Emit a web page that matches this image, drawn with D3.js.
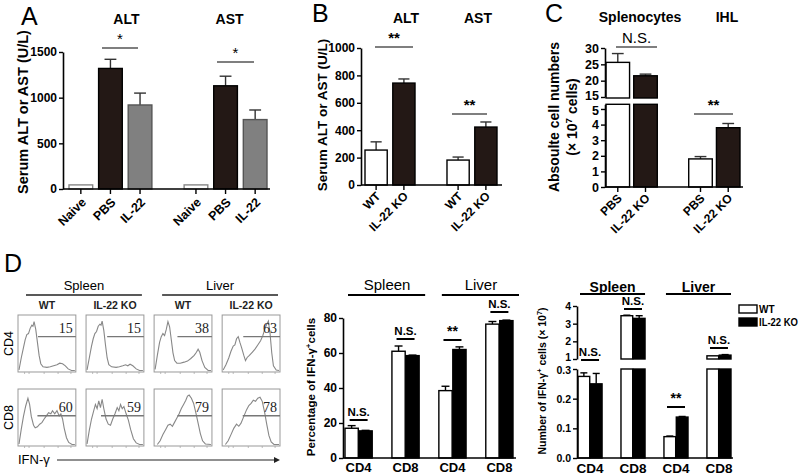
<!DOCTYPE html>
<html><head><meta charset="utf-8">
<script src="https://cdn.jsdelivr.net/npm/d3@7"></script>
<style>body{margin:0;background:#fff}</style>
</head><body><script>
// ---------- DATA ----------
const aGroups = ["ALT", "AST"];
const aCats = ["Naive", "PBS", "IL-22"];
const aAltMean = [45, 1320, 920];
const aAltSem = [0, 100, 130];
const aAstMean = [45, 1130, 760];
const aAstSem = [0, 105, 105];
const aTicks = [0, 500, 1000, 1500];
const aSig = ["*", "*"];

const bGroups = ["ALT", "AST"];
const bCats = ["WT", "IL-22 KO"];
const bAltMean = [255, 744];
const bAltSem = [60, 30];
const bAstMean = [182, 423];
const bAstSem = [22, 37];
const bTicks = [0, 200, 400, 600, 800, 1000];
const bSig = ["**", "**"];

const cGroups = ["Splenocytes", "IHL"];
const cCats = ["PBS", "IL-22 KO"];
const cSplMean = [25.6, 21.5];
const cSplSem = [2.7, 0.5];
const cIhlMean = [1.8, 3.8];
const cIhlSem = [0.15, 0.27];
const cTicksUpper = [15, 20, 25, 30];
const cTicksLower = [0, 1, 2, 3, 4, 5];
const cSig = ["N.S.", "**"];

const dTissues = ["Spleen", "Liver"];
const dCells = ["CD4", "CD8", "CD4", "CD8"];
const dGenotypes = ["WT", "IL-22 KO"];
const pctWT = [17, 61, 38.5, 76.5];
const pctWTSem = [1.5, 3, 2.5, 1.5];
const pctKO = [15.5, 58.5, 62, 78.5];
const pctKOSem = [0.3, 0.3, 1.5, 0.3];
const pctTicks = [0, 20, 40, 60, 80];
const numWT = [0.275, 3.45, 0.072, 1.18];
const numWTSem = [0.012, 0.03, 0.002, 0.02];
const numKO = [0.25, 3.3, 0.138, 1.22];
const numKOSem = [0.035, 0.15, 0.002, 0.03];
const numTicksUpper = [1, 2, 3, 4];
const numTicksLower = [0, 0.1, 0.2, 0.3];
const dSig = ["N.S.", "N.S.", "**", "N.S."];

const flowRows = ["CD4", "CD8"];
const flowGateCD4 = [15, 15, 38, 63];
const flowGateCD8 = [60, 59, 79, 78];
// histogram outlines: [x fraction, height fraction]
// order: Spleen WT, Spleen IL-22 KO, Liver WT, Liver IL-22 KO
const flowCD4 = [
  [[0,0.02],[0.04,0.25],[0.08,0.45],[0.11,0.6],[0.14,0.7],[0.17,0.72],[0.2,0.82],[0.23,0.88],[0.25,0.86],[0.27,0.95],[0.3,0.8],[0.33,0.55],[0.36,0.3],[0.39,0.14],[0.43,0.08],[0.5,0.07],[0.56,0.08],[0.62,0.1],[0.68,0.12],[0.73,0.15],[0.78,0.14],[0.83,0.1],[0.88,0.04],[0.94,0.01],[1,0.01]],
  [[0,0.02],[0.04,0.25],[0.08,0.48],[0.11,0.62],[0.14,0.72],[0.17,0.76],[0.2,0.86],[0.23,0.9],[0.25,0.88],[0.27,0.96],[0.3,0.78],[0.33,0.5],[0.36,0.25],[0.39,0.12],[0.44,0.08],[0.52,0.07],[0.58,0.08],[0.64,0.1],[0.69,0.12],[0.73,0.1],[0.77,0.13],[0.82,0.1],[0.88,0.04],[0.94,0.01],[1,0.01]],
  [[0,0.03],[0.04,0.3],[0.08,0.55],[0.11,0.66],[0.14,0.72],[0.17,0.68],[0.2,0.8],[0.23,0.95],[0.26,0.85],[0.29,0.6],[0.32,0.35],[0.35,0.2],[0.39,0.15],[0.45,0.15],[0.52,0.17],[0.58,0.19],[0.64,0.24],[0.7,0.3],[0.74,0.36],[0.77,0.42],[0.8,0.36],[0.84,0.2],[0.89,0.07],[0.95,0.01],[1,0.01]],
  [[0,0.02],[0.05,0.12],[0.1,0.25],[0.14,0.38],[0.18,0.48],[0.21,0.5],[0.24,0.62],[0.27,0.66],[0.3,0.55],[0.33,0.45],[0.37,0.3],[0.4,0.2],[0.43,0.26],[0.47,0.3],[0.52,0.36],[0.57,0.42],[0.62,0.5],[0.67,0.58],[0.71,0.68],[0.75,0.82],[0.78,0.9],[0.81,0.96],[0.84,0.72],[0.87,0.35],[0.9,0.1],[0.95,0.02],[1,0.01]]
];
const flowCD8 = [
  [[0,0.02],[0.04,0.3],[0.08,0.55],[0.12,0.75],[0.16,0.9],[0.19,0.78],[0.22,0.55],[0.26,0.38],[0.29,0.33],[0.33,0.35],[0.37,0.4],[0.41,0.43],[0.45,0.5],[0.49,0.56],[0.53,0.62],[0.57,0.6],[0.6,0.66],[0.64,0.6],[0.68,0.66],[0.72,0.56],[0.75,0.6],[0.78,0.5],[0.81,0.32],[0.85,0.14],[0.89,0.05],[0.95,0.01],[1,0.01]],
  [[0,0.02],[0.04,0.28],[0.08,0.5],[0.12,0.66],[0.15,0.78],[0.18,0.7],[0.21,0.85],[0.24,0.72],[0.27,0.88],[0.3,0.7],[0.34,0.5],[0.38,0.4],[0.42,0.38],[0.46,0.5],[0.5,0.6],[0.54,0.72],[0.57,0.66],[0.6,0.78],[0.63,0.7],[0.66,0.74],[0.7,0.6],[0.74,0.48],[0.78,0.3],[0.83,0.12],[0.88,0.04],[0.94,0.01],[1,0.01]],
  [[0.04,0.01],[0.09,0.08],[0.14,0.2],[0.19,0.3],[0.23,0.38],[0.27,0.4],[0.31,0.36],[0.35,0.44],[0.39,0.52],[0.43,0.6],[0.47,0.7],[0.51,0.78],[0.55,0.86],[0.58,0.94],[0.61,0.96],[0.65,0.9],[0.69,0.8],[0.73,0.62],[0.77,0.42],[0.81,0.22],[0.85,0.08],[0.9,0.02],[1,0.01]],
  [[0.04,0.01],[0.09,0.08],[0.14,0.2],[0.19,0.32],[0.24,0.4],[0.28,0.36],[0.32,0.42],[0.37,0.55],[0.42,0.68],[0.46,0.76],[0.5,0.8],[0.54,0.86],[0.58,0.84],[0.62,0.9],[0.66,0.92],[0.7,0.84],[0.74,0.64],[0.78,0.4],[0.82,0.18],[0.86,0.06],[0.91,0.01],[1,0.01]]
];

// ---------- SETUP ----------
const svg = d3.select("body").append("svg")
  .attr("width", 800).attr("height", 476)
  .style("font-family", "'Liberation Sans', Arial, sans-serif");

const BLACK = "#231815";

function styleAxis(g, fs) {
  g.select(".domain").attr("stroke", "#000").attr("stroke-width", 1.6);
  g.selectAll(".tick line").attr("stroke", "#000").attr("stroke-width", 1.4);
  g.selectAll(".tick text").attr("font-size", fs).attr("font-weight", "bold").attr("fill", "#000");
}
function yAxis(scale, x, ticks, fmt, fs) {
  const g = svg.append("g").attr("transform", `translate(${x},0)`)
    .call(d3.axisLeft(scale).tickValues(ticks).tickFormat(fmt).tickSize(4).tickSizeOuter(0).tickPadding(2));
  styleAxis(g, fs);
  return g;
}
function nudgeTick(g, value, dy) {
  g.selectAll(".tick").filter(d => d === value).select("text").attr("y", dy);
}
function hline(x1, x2, y, w, col) {
  svg.append("line").attr("x1", x1).attr("x2", x2).attr("y1", y).attr("y2", y)
    .attr("stroke", col || "#000").attr("stroke-width", w || 1.5);
}
function txt(x, y, s, fs, opts) {
  opts = opts || {};
  const t = svg.append("text").attr("x", x).attr("y", y).text(s)
    .attr("font-size", fs).attr("text-anchor", opts.anchor || "middle")
    .attr("font-weight", opts.weight || "normal").attr("fill", opts.fill || "#000");
  if (opts.family) t.attr("font-family", opts.family);
  return t;
}
function rotText(x, y, parts, fs, weight) {
  const t = svg.append("text").attr("transform", `translate(${x},${y}) rotate(-90)`)
    .attr("text-anchor", "middle").attr("font-size", fs).attr("font-weight", weight || "bold");
  parts.forEach(p => {
    const ts = t.append("tspan").text(p.t);
    if (p.sup) ts.attr("baseline-shift", "super").attr("font-size", fs * 0.7);
  });
  return t;
}
function sig(x1, x2, y, s, fs, weight, col) {
  hline(x1, x2, y, 1.4, col || "#555");
  txt((x1 + x2) / 2, y - 4, s, fs, { weight: weight || "normal" });
}
function bar(x, w, y0, y1, fill, stroke) {
  svg.append("rect").attr("x", x).attr("y", Math.min(y0, y1)).attr("width", w)
    .attr("height", Math.abs(y1 - y0)).attr("fill", fill).attr("stroke", stroke || "#000").attr("stroke-width", 1.4);
}
function errBar(cx, yMean, yTop, capW, col) {
  if (Math.abs(yMean - yTop) < 0.5) return;
  svg.append("line").attr("x1", cx).attr("x2", cx).attr("y1", yMean).attr("y2", yTop)
    .attr("stroke", col || "#000").attr("stroke-width", 1.4);
  hline(cx - capW / 2, cx + capW / 2, yTop, 1.4, col || "#000");
}
function letter(x, y, s) { txt(x, y, s, 25, { anchor: "start" }); }
function xLabel(cx, y, s, fs) {
  svg.append("text").attr("transform", `translate(${cx},${y}) rotate(-45)`)
    .attr("text-anchor", "end").attr("font-size", fs).attr("font-weight", "bold").text(s);
}

// ---------- PANEL A ----------
{
  letter(21, 25, "A");
  const y = d3.scaleLinear().domain([0, 1500]).range([189, 52]);
  const gx = d3.scaleBand().domain(aGroups).range([69, 267]).paddingInner(0.28);
  const ix = d3.scaleBand().domain(aCats).range([0, gx.bandwidth()]).paddingInner(0.2);
  const fills = ["#fff", BLACK, "#808080"];
  const strokes = ["#888", "#000", "#555"];
  const means = [aAltMean, aAstMean], sems = [aAltSem, aAstSem];
  const titleShift = [16, 4];
  aGroups.forEach((gname, gi) => {
    aCats.forEach((c, i) => {
      const x0 = gx(gname) + ix(c), w = ix.bandwidth();
      const m = means[gi][i], s = sems[gi][i];
      errBar(x0 + w / 2, y(m), y(m + s), w * 0.5, "#333");
      bar(x0, w, y(0), y(m), fills[i], strokes[i]);
      svg.append("line").attr("x1", x0 + w / 2).attr("x2", x0 + w / 2).attr("y1", 189).attr("y2", 194).attr("stroke", "#000").attr("stroke-width", 1.4);
      xLabel(x0 + w / 2 + 6, 203, c, 12.5);
    });
    txt(gx(gname) + gx.bandwidth() / 2 + titleShift[gi], 24, gname, 14, { weight: "bold" });
  });
  hline(63, 270, 189, 1.6);
  yAxis(y, 63, aTicks, d3.format("d"), 12);
  rotText(28, 112, [{ t: "Serum ALT or AST (U/L)" }], 14.5);
  sig(102, 138, 48, aSig[0], 15);
  sig(217, 254, 62, aSig[1], 15);
}

// ---------- PANEL B ----------
{
  letter(312, 22, "B");
  const y = d3.scaleLinear().domain([0, 1000]).range([185, 48]);
  const gx = d3.scaleBand().domain(bGroups).range([365, 497]).paddingInner(0.39);
  const ix = d3.scaleBand().domain(bCats).range([0, gx.bandwidth()]).paddingInner(0.2);
  const fills = ["#fff", BLACK];
  const means = [bAltMean, bAstMean], sems = [bAltSem, bAstSem];
  const titleShift = [16, 6];
  bGroups.forEach((gname, gi) => {
    bCats.forEach((c, i) => {
      const x0 = gx(gname) + ix(c), w = ix.bandwidth();
      const m = means[gi][i], s = sems[gi][i];
      errBar(x0 + w / 2, y(m), y(m + s), w * 0.5, "#333");
      bar(x0, w, y(0), y(m), fills[i], "#000");
      svg.append("line").attr("x1", x0 + w / 2).attr("x2", x0 + w / 2).attr("y1", 185).attr("y2", 190).attr("stroke", "#000").attr("stroke-width", 1.4);
      xLabel(x0 + w / 2 + 5, 197, c, 12);
    });
    txt(gx(gname) + gx.bandwidth() / 2 + titleShift[gi], 23, gname, 14, { weight: "bold" });
  });
  hline(361, 502, 185, 1.6);
  yAxis(y, 361, bTicks, d3.format("d"), 12);
  rotText(327, 115, [{ t: "Serum ALT or AST (U/L)" }], 13.5);
  sig(375, 413, 47, bSig[0], 15, "bold");
  sig(452, 487, 114, bSig[1], 15, "bold");
}

// ---------- PANEL C ----------
{
  letter(545, 22, "C");
  const yU = d3.scaleLinear().domain([15, 30]).range([97, 48]);
  const yL = d3.scaleLinear().domain([0, 5.3]).range([187, 104.3]);
  const gx = d3.scaleBand().domain(cGroups).range([606, 740]).paddingInner(0.38);
  const ix = d3.scaleBand().domain(cCats).range([0, gx.bandwidth()]).paddingInner(0.15);
  const fills = ["#fff", BLACK];
  const means = [cSplMean, cIhlMean], sems = [cSplSem, cIhlSem];
  const yv = v => v > 5.3 ? yU(v) : yL(v);
  cGroups.forEach((gname, gi) => {
    cCats.forEach((c, i) => {
      const x0 = gx(gname) + ix(c), w = ix.bandwidth();
      const m = means[gi][i], s = sems[gi][i];
      errBar(x0 + w / 2, yv(m), yv(m + s), w * 0.5, "#333");
      if (m > 5.3) {
        bar(x0, w, yL(0), yL(5.3), fills[i], "#000");
        bar(x0, w, yU(15) + 1, yU(m), fills[i], "#000");
      } else {
        bar(x0, w, yL(0), yL(m), fills[i], "#000");
      }
      svg.append("line").attr("x1", x0 + w / 2).attr("x2", x0 + w / 2).attr("y1", 187).attr("y2", 192).attr("stroke", "#000").attr("stroke-width", 1.4);
      xLabel(x0 + w / 2 + 5, 199, c, 12);
    });
  });
  txt(640, 22, cGroups[0], 14, { weight: "bold" });
  txt(727, 22, cGroups[1], 14, { weight: "bold" });
  hline(605, 743, 187, 1.6);
  const gU = yAxis(yU, 605, cTicksUpper, d3.format("d"), 12.5);
  const gL = yAxis(yL, 605, cTicksLower, d3.format("d"), 12.5);
  nudgeTick(gU, 15, -2);
  nudgeTick(gL, 5, 1.5);
  rotText(559, 117, [{ t: "Absoulte cell numbers" }], 14);
  rotText(577, 117, [{ t: "(× 10" }, { t: "7", sup: true }, { t: " cells)" }], 14);
  sig(616, 657, 47, cSig[0], 15, "normal");
  sig(694, 733, 114, cSig[1], 15, "bold");
}

// ---------- PANEL D : flow histograms ----------
{
  letter(4, 272, "D");
  const boxX = d3.scaleBand().domain(d3.range(4)).range([18, 280]).paddingInner(0.15);
  const boxY = d3.scaleBand().domain(flowRows).range([315, 446]).paddingInner(0.23);
  const bw = boxX.bandwidth(), bh = boxY.bandwidth();
  const curves = [flowCD4, flowCD8], gates = [flowGateCD4, flowGateCD8];
  const gateStart = [[0.34, 0.36, 0.4, 0.36], [0.33, 0.25, 0.4, 0.35]];
  dTissues.forEach((t, ti) => {
    const x1 = boxX(ti * 2) + 8, x2 = boxX(ti * 2 + 1) + bw - 2;
    txt((x1 + x2) / 2, 290, t, 13);
    hline(x1, x2, 295, 1.3, "#222");
    dGenotypes.forEach((gname, gi) => {
      txt(boxX(ti * 2 + gi) + bw / 2, 309, gname, 10.5, { weight: "bold", fill: "#222" });
    });
  });
  flowRows.forEach((r, ri) => {
    rotText(13, boxY(r) + bh / 2, [{ t: r }], 12.5, "normal");
    d3.range(4).forEach(ci => {
      const bx = boxX(ci), by = boxY(r);
      const sx = d3.scaleLinear().domain([0, 1]).range([bx + 1, bx + bw - 1]);
      const sy = d3.scaleLinear().domain([0, 1]).range([by + bh - 1, by + 4]);
      svg.append("rect").attr("x", bx).attr("y", by).attr("width", bw).attr("height", bh)
        .attr("fill", "none").attr("stroke", "#999").attr("stroke-width", 1);
      svg.append("path").datum(curves[ri][ci])
        .attr("d", d3.line().x(d => sx(d[0])).y(d => sy(d[1])))
        .attr("fill", "none").attr("stroke", "#888").attr("stroke-width", 1.1);
      [0.1, 0.18, 0.45, 0.7, 0.93].forEach(f => {
        svg.append("line").attr("x1", sx(f)).attr("x2", sx(f)).attr("y1", by + bh).attr("y2", by + bh + 2)
          .attr("stroke", "#aaa").attr("stroke-width", 0.8);
      });
      const gy = ri === 0 ? by + bh * 0.38 : by + bh * 0.47;
      hline(sx(gateStart[ri][ci]), bx + bw, gy, 1.4, "#777");
      txt(bx + bw - 3, gy - 4, gates[ri][ci], 14, { anchor: "end", family: "'Liberation Serif', 'Times New Roman', serif", fill: "#222" });
    });
  });
  txt(18, 464, "IFN-γ", 13, { anchor: "start" });
  hline(57, 274, 460, 1.2, "#222");
  svg.append("path").attr("d", "M274,457 L280,460 L274,463 Z").attr("fill", "#222");
}

// ---------- PANEL D : percentage ----------
{
  const y = d3.scaleLinear().domain([0, 80]).range([458, 318]);
  const gx = d3.scaleBand().domain(d3.range(4)).range([345, 513]).paddingInner(0.42);
  const ix = d3.scaleBand().domain(dGenotypes).range([0, gx.bandwidth()]).paddingInner(0.05);
  const fills = ["#fff", "#000"];
  const means = [pctWT, pctKO], sems = [pctWTSem, pctKOSem];
  const sigY = [420, 339, 340, 312];
  d3.range(4).forEach(k => {
    dGenotypes.forEach((gname, i) => {
      const x0 = gx(k) + ix(gname), w = ix.bandwidth();
      const m = means[i][k], s = sems[i][k];
      errBar(x0 + w / 2, y(m), y(m + s), w * 0.6, "#000");
      bar(x0, w, y(0), y(m), fills[i], "#000");
    });
    txt(gx(k) + gx.bandwidth() / 2, 472, dCells[k], 13, { weight: "bold" });
    const cx = gx(k) + gx.bandwidth() / 2;
    hline(cx - 9, cx + 9, sigY[k], 2, "#000");
    txt(cx, sigY[k] - 4, dSig[k], dSig[k] === "**" ? 14 : 11.5, { weight: "bold" });
  });
  hline(343, 516, 458, 1.6);
  yAxis(y, 343, pctTicks, d3.format("d"), 12);
  rotText(315, 387, [{ t: "Percentage of IFN-γ" }, { t: "+", sup: true }, { t: "cells" }], 11.5);
  dTissues.forEach((t, ti) => {
    const x1 = gx(ti * 2) + 4, x2 = gx(ti * 2 + 1) + gx.bandwidth() + 6;
    txt((x1 + x2) / 2, 290, t, 15);
    hline(x1 - 1, x2, 295, 2, "#000");
  });
}

// ---------- PANEL D : numbers ----------
{
  const yU = d3.scaleLinear().domain([1, 4]).range([359, 306]);
  const yL = d3.scaleLinear().domain([0, 0.3]).range([458, 369]);
  const gx = d3.scaleBand().domain(d3.range(4)).range([578, 731]).paddingInner(0.44);
  const ix = d3.scaleBand().domain(dGenotypes).range([0, gx.bandwidth()]).paddingInner(0.05);
  const fills = ["#fff", "#000"];
  const means = [numWT, numKO], sems = [numWTSem, numKOSem];
  const yv = v => v > 0.3 ? yU(Math.max(v, 1)) : yL(v);
  const sigY = [360, 309, 407, 348];
  d3.range(4).forEach(k => {
    dGenotypes.forEach((gname, i) => {
      const x0 = gx(k) + ix(gname), w = ix.bandwidth();
      const m = means[i][k], s = sems[i][k];
      errBar(x0 + w / 2, yv(m), yv(m + s), w * 0.6, "#000");
      if (m > 0.3) {
        bar(x0, w, yL(0), yL(0.3), fills[i], "#000");
        bar(x0, w, yU(1), yU(m), fills[i], "#000");
      } else {
        bar(x0, w, yL(0), yL(m), fills[i], "#000");
      }
    });
    const cx = gx(k) + gx.bandwidth() / 2;
    txt(cx, 473, dCells[k], 13.5, { weight: "bold" });
    hline(cx - 9, cx + 9, sigY[k], 2, "#000");
    txt(cx, sigY[k] - 4, dSig[k], dSig[k] === "**" ? 14 : 11.5, { weight: "bold" });
  });
  hline(577, 733, 458, 1.6);
  const gU = yAxis(yU, 577, numTicksUpper, d3.format("d"), 10.5);
  const gL = yAxis(yL, 577, numTicksLower, d3.format(".1f"), 10.5);
  nudgeTick(gU, 1, -2);
  nudgeTick(gL, 0.3, 1.5);
  rotText(546, 381, [{ t: "Number of IFN-γ" }, { t: "+", sup: true }, { t: " cells (× 10" }, { t: "7", sup: true }, { t: ")" }], 10.5);
  dTissues.forEach((t, ti) => {
    const x1 = gx(ti * 2) + 2, x2 = gx(ti * 2 + 1) + gx.bandwidth();
    txt((x1 + x2) / 2, 292, t, 14, { weight: "bold" });
    hline(x1, x2, 294, 2, "#000");
  });
  dGenotypes.forEach((gname, i) => {
    const ly = 305 + i * 13;
    svg.append("rect").attr("x", 739).attr("y", ly).attr("width", 18).attr("height", 8)
      .attr("fill", fills[i]).attr("stroke", "#000").attr("stroke-width", 1.4);
    txt(759, ly + 8, gname, 10, { anchor: "start", weight: "bold" })
      .attr("textLength", i === 1 ? 39 : null).attr("lengthAdjust", "spacingAndGlyphs");
  });
}
</script></body></html>
